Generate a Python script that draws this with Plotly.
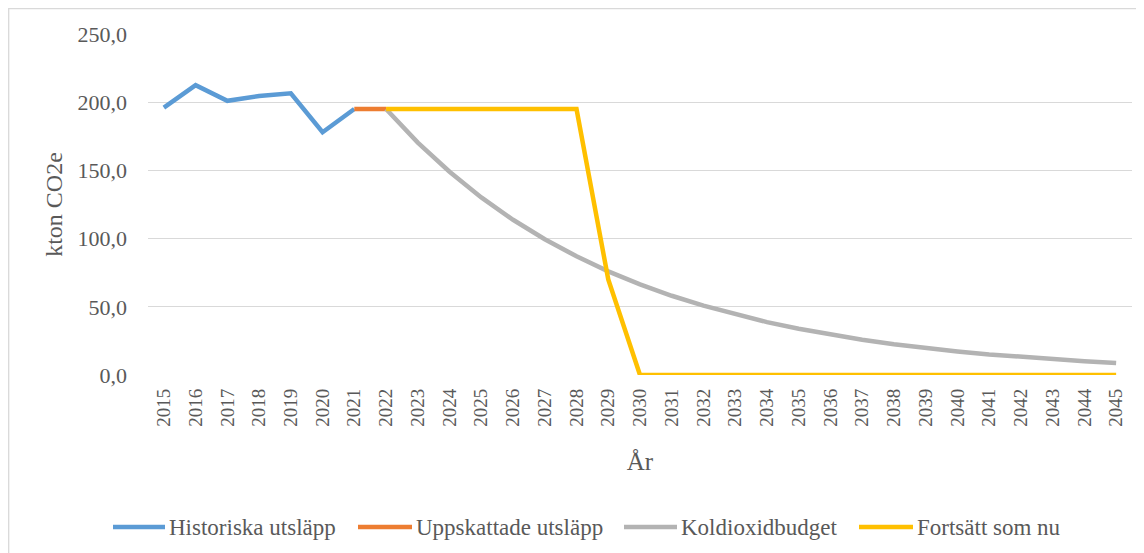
import plotly.graph_objects as go

years = list(range(2015, 2046))

hist_years = [2015, 2016, 2017, 2018, 2019, 2020, 2021]
hist_vals = [196.0, 212.5, 201.0, 204.5, 206.5, 178.0, 195.0]

est_years = [2021, 2022]
est_vals = [195.0, 195.0]

budget_years = list(range(2022, 2046))
budget_vals = [195.0, 170.4, 149.0, 130.2, 113.8, 99.5, 87.0, 76.0, 66.4, 58.1,
               50.8, 44.4, 38.8, 33.9, 29.6, 25.9, 22.6, 19.8, 17.3, 15.1,
               13.2, 11.5, 10.1, 8.8]

cont_years = list(range(2022, 2046))
cont_vals = [195.0, 195.0, 195.0, 195.0, 195.0, 195.0, 195.0, 70.0, 0.0, 0.0,
             0.0, 0.0, 0.0, 0.0, 0.0, 0.0, 0.0, 0.0, 0.0, 0.0,
             0.0, 0.0, 0.0, 0.0]

y_ticks = [0, 50, 100, 150, 200, 250]
y_tick_text = ["0,0", "50,0", "100,0", "150,0", "200,0", "250,0"]

FONT = "Liberation Serif"
GREY_TXT = "#595959"

W, H = 1136, 545          # page body has an 8px margin
L, T, PW, PH = 140, 26, 984, 341


def px_to_paper(fx, fy):
    return (fx - L) / PW, (T + PH - fy) / PH


fig = go.Figure()
series = [
    ("Historiska utsläpp", hist_years, hist_vals, "#5B9BD5"),
    ("Uppskattade utsläpp", est_years, est_vals, "#ED7D31"),
    ("Koldioxidbudget", budget_years, budget_vals, "#B3B3B3"),
    ("Fortsätt som nu", cont_years, cont_vals, "#FFC000"),
]
for name, xs, ys, col in series:
    fig.add_trace(go.Scatter(x=xs, y=ys, name=name, mode="lines",
                             line=dict(color=col, width=4.5), showlegend=False))

# legend drawn as shapes + annotations (long line keys like the original)
legend_line_x = [(105, 157), (350, 404), (616, 669), (851, 905)]
legend_y = 519
for (name, _, _, col), (lx0, lx1) in zip(series, legend_line_x):
    px0, py = px_to_paper(lx0, legend_y)
    px1, _ = px_to_paper(lx1, legend_y)
    fig.add_shape(type="line", xref="paper", yref="paper", x0=px0, x1=px1, y0=py, y1=py,
                  line=dict(color=col, width=4.5))
    tx, _ = px_to_paper(lx1 + 2, legend_y)
    fig.add_annotation(text=name, xref="paper", yref="paper", x=tx, y=py,
                       xanchor="left", yanchor="middle", showarrow=False,
                       font=dict(family=FONT, size=23, color=GREY_TXT))

fig.update_layout(
    width=W, height=H,
    margin=dict(l=L, r=W - L - PW, t=T, b=H - T - PH),
    paper_bgcolor="white", plot_bgcolor="white",
    font=dict(family=FONT, color=GREY_TXT, size=21),
    showlegend=False,
    xaxis=dict(range=[2014.5, 2045.5], tickmode="array", tickvals=years,
               ticktext=[str(y) for y in years], tickangle=-90,
               showgrid=False, zeroline=False, showline=False,
               ticklabelstandoff=9,
               tickfont=dict(family=FONT, size=19, color=GREY_TXT),
               title=dict(text="År", font=dict(family=FONT, size=25, color=GREY_TXT),
                          standoff=26)),
    yaxis=dict(range=[0, 250], tickmode="array", tickvals=y_ticks, ticktext=y_tick_text,
               showgrid=True, gridcolor="#D9D9D9", gridwidth=1.3, zeroline=False,
               showline=False, ticks="", ticklen=0, ticklabelstandoff=20,
               tickfont=dict(family=FONT, size=22, color=GREY_TXT),
               title=dict(text="kton CO2e", font=dict(family=FONT, size=24, color=GREY_TXT),
                          standoff=8)),
)

# chart-area border
bx0, by1 = px_to_paper(0.7, 0.7)
bx1, by0 = px_to_paper(1130, 560)
fig.add_shape(type="rect", xref="paper", yref="paper", x0=bx0, x1=bx1, y0=by0, y1=by1,
              line=dict(color="#D9D9D9", width=1.3), fillcolor="rgba(0,0,0,0)", layer="below")

fig.write_html("out.html")
